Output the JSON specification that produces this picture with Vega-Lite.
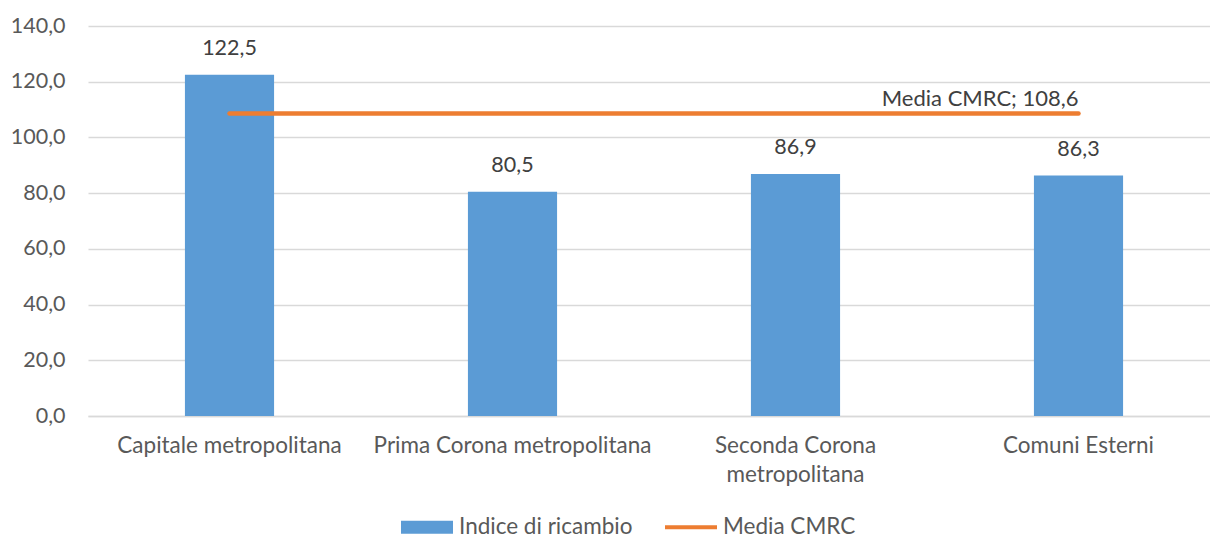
{
  "$schema": "https://vega.github.io/schema/vega-lite/v6.json",
  "width": 1132,
  "height": 390,
  "autosize": {"type": "none"},
  "padding": {"left": 88, "top": 26, "right": 0, "bottom": 122},
  "background": "white",
  "config": {
    "locale": {"number": {"decimal": ",", "thousands": ".", "grouping": [3], "currency": ["€", ""]}},
    "view": {"stroke": null},
    "font": "Lato",
    "text": {"font": "Lato", "fontSize": 21.5, "fill": "#404040"},
    "axisY": {"grid": true, "gridColor": "#d9d9d9", "gridWidth": 1.5, "domain": false, "ticks": false, "labelFont": "Lato", "labelFontSize": 21.5, "labelColor": "#595959", "labelPadding": 23, "labelOverlap": false, "format": ".1f", "title": null},
    "axisX": {"grid": false, "domainColor": "#d9d9d9", "domainWidth": 1.5, "ticks": false, "labelFont": "Lato", "labelFontSize": 22.5, "labelColor": "#595959", "labelPadding": 18, "labelAngle": 0, "labelLimit": 0, "labelOverlap": false, "title": null, "labelLineHeight": 29}
  },
  "data": {
    "values": [
      {"area": "Capitale metropolitana", "indice": 122.5, "media": 108.6},
      {"area": "Prima Corona metropolitana", "indice": 80.5, "media": 108.6},
      {"area": "Seconda Corona metropolitana", "indice": 86.9, "media": 108.6},
      {"area": "Comuni Esterni", "indice": 86.3, "media": 108.6}
    ]
  },
  "encoding": {
    "x": {
      "field": "area",
      "type": "nominal",
      "sort": null,
      "scale": {"paddingInner": 0.685, "paddingOuter": 0.3425},
      "axis": {"labelExpr": "datum.label == 'Seconda Corona metropolitana' ? ['Seconda Corona', 'metropolitana'] : datum.label", "labelBaseline": "top"}
    }
  },
  "layer": [
    {
      "mark": {"type": "bar", "color": "#5B9BD5"},
      "encoding": {
        "y": {"field": "indice", "type": "quantitative", "scale": {"domain": [0, 140]}, "title": null, "axis": {"values": [0, 20, 40, 60, 80, 100, 120, 140]}},
        "color": {
          "datum": "Indice di ricambio",
          "type": "nominal",
          "scale": {"domain": ["Indice di ricambio", "Media CMRC"], "range": ["#5B9BD5", "#ED7D31"]},
          "legend": {
            "title": null,
            "orient": "none",
            "direction": "horizontal",
            "legendX": 313,
            "legendY": 475,
            "symbolSize": 2704,
            "labelFont": "Lato",
            "labelFontSize": 22.5,
            "labelColor": "#595959",
            "labelOffset": 6,
            "labelLimit": 0,
            "columnPadding": 32,
            "encode": {
              "symbols": {
                "update": {
                  "shape": {"signal": "datum.value === 'Indice di ricambio' ? 'M-1,-0.25H1V0.25H-1Z' : 'M-1,-0.08H1V0.08H-1Z'"},
                  "fill": {"signal": "datum.value === 'Indice di ricambio' ? '#5B9BD5' : '#ED7D31'"},
                  "stroke": {"value": null},
                  "strokeWidth": {"value": 0},
                  "fillOpacity": {"value": 1}
                }
              }
            }
          }
        }
      }
    },
    {
      "mark": {"type": "text", "baseline": "middle", "dy": -26},
      "encoding": {
        "y": {"field": "indice", "type": "quantitative", "title": null},
        "text": {"field": "indice", "type": "quantitative", "format": ".1f"}
      }
    },
    {
      "mark": {"type": "line", "strokeWidth": 4.5, "strokeCap": "round"},
      "encoding": {
        "y": {"field": "media", "type": "quantitative", "title": null},
        "color": {"datum": "Media CMRC", "type": "nominal"}
      }
    },
    {
      "transform": [{"filter": "datum.area === 'Comuni Esterni'"}],
      "mark": {"type": "text", "align": "right", "baseline": "alphabetic", "dy": -7, "fontSize": 22},
      "encoding": {
        "y": {"field": "media", "type": "quantitative", "title": null},
        "text": {"value": "Media CMRC; 108,6"}
      }
    }
  ]
}
